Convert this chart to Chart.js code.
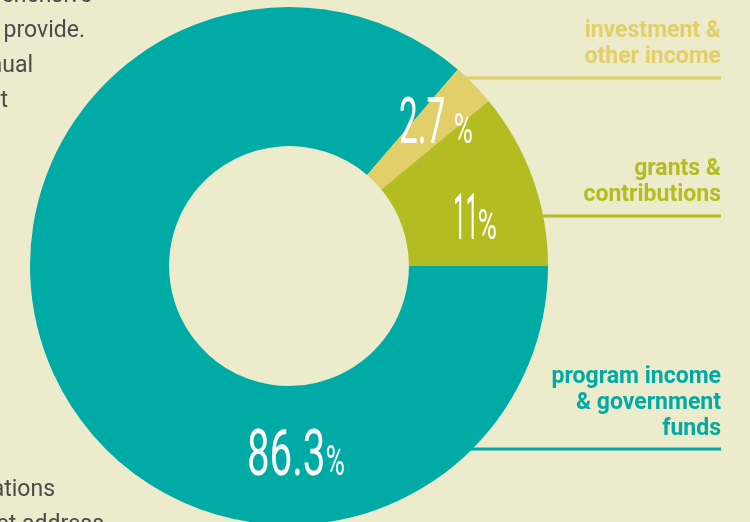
<!DOCTYPE html>
<html>
<head>
<meta charset="utf-8">
<script src="https://cdn.jsdelivr.net/npm/chart.js@4.4.1/dist/chart.umd.min.js"></script>
<style>
  html, body { margin: 0; padding: 0; background: #ecebcc; overflow: hidden; }
  #wrap { position: relative; width: 750px; height: 530px; }
</style>
</head>
<body>
<div id="wrap"><canvas id="fundChart" width="750" height="530"></canvas></div>
<script>
// revenue sources, order follows the ring clockwise from 3 o'clock
const categories = ['program income & government funds', 'investment & other income', 'grants & contributions'];
const shares = [86.3, 2.7, 11];
const valueLabels = ['86.3', '2.7', '11'];
const nameLines = [
  ['program income', '& government', 'funds'],
  ['investment &', 'other income'],
  ['grants &', 'contributions']
];
const colors = ['#00aba5', '#e2cf6a', '#b3bc20'];

// cut-off paragraph on the left edge of the page
const sideText = ['comprehensive', 'services we provide.', 'annual', 'at', 'organizations', 'street address'];
const sideRight = [92, 85, 33, 8, 55, 104];
const sideBase = [2, 37, 72, 107, 496, 531];

// where the big numbers and the legend blocks sit (ink left edge, baseline, ink width)
const valuePos = [
  { x: 246, y: 475, w: 80, pct: 327 },
  { x: 400, y: 143, w: 44, pct: 455 },
  { x: 455, y: 239, w: 19, pct: 479 }
];
const namePos = [
  { base: 383, rule: 449 },
  { base: 37, rule: 78 },
  { base: 175, rule: 216 }
];

const labelPlugin = {
  id: 'labelPlugin',
  beforeDatasetsDraw(chart) {
    const ctx = chart.ctx;
    const arc = chart.getDatasetMeta(0).data[0];
    const cx = arc.x, cy = arc.y, r = arc.outerRadius;
    ctx.save();
    // side paragraph
    ctx.fillStyle = '#4b4b4b';
    ctx.font = '23px Roboto';
    ctx.textAlign = 'right';
    ctx.textBaseline = 'alphabetic';
    sideText.forEach((t, i) => ctx.fillText(t, sideRight[i], sideBase[i]));
    // legend rules from the ring edge to the right margin
    namePos.forEach((p, i) => {
      const dy = p.rule - cy;
      const x0 = cx + Math.sqrt(Math.max(r * r - dy * dy, 0));
      ctx.strokeStyle = colors[i];
      ctx.lineWidth = 3;
      ctx.beginPath();
      ctx.moveTo(x0 - 4, p.rule);
      ctx.lineTo(721, p.rule);
      ctx.stroke();
    });
    ctx.restore();
  },
  afterDraw(chart) {
    const ctx = chart.ctx;
    ctx.save();
    // legend names
    ctx.textAlign = 'right';
    ctx.textBaseline = 'alphabetic';
    ctx.font = 'bold 23px Roboto';
    nameLines.forEach((lines, i) => {
      ctx.fillStyle = colors[i];
      lines.forEach((t, j) => ctx.fillText(t, 721, namePos[i].base + j * 26));
    });
    // big condensed percentages, squeezed to the ink width of the original
    ctx.fillStyle = '#ffffff';
    ctx.textAlign = 'left';
    valueLabels.forEach((v, i) => {
      const p = valuePos[i];
      ctx.font = '400 65px Roboto';
      const m = ctx.measureText(v);
      const ink = m.actualBoundingBoxLeft + m.actualBoundingBoxRight;
      const sx = Math.min(p.w / ink, 0.62);
      const drawnW = ink * sx;
      ctx.save();
      ctx.translate(p.x + (p.w - drawnW) / 2, p.y);
      ctx.scale(sx, 1);
      ctx.fillText(v, m.actualBoundingBoxLeft, 0);
      ctx.restore();
      ctx.font = '400 42px Roboto';
      const mp = ctx.measureText('%');
      ctx.save();
      ctx.translate(p.pct, p.y);
      ctx.scale(0.62, 1);
      ctx.fillText('%', mp.actualBoundingBoxLeft, 0);
      ctx.restore();
    });
    ctx.restore();
  }
};

new Chart(document.getElementById('fundChart'), {
  type: 'doughnut',
  data: {
    labels: categories,
    datasets: [{
      data: shares,
      backgroundColor: colors,
      borderWidth: 0
    }]
  },
  options: {
    responsive: false,
    animation: false,
    rotation: 90,
    cutout: '46.3%',
    layout: { padding: { left: 30, right: 202, top: 7, bottom: 5 } },
    plugins: {
      legend: { display: false },
      tooltip: { enabled: false }
    }
  },
  plugins: [labelPlugin]
});
</script>
</body>
</html>
